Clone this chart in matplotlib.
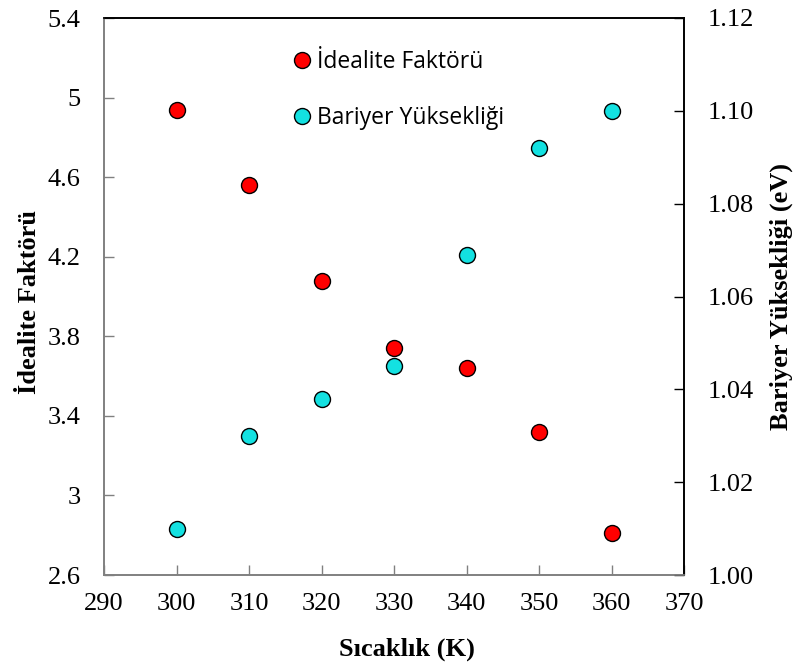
import matplotlib
matplotlib.use("Agg")
import matplotlib.pyplot as plt
from matplotlib.lines import Line2D

# Temperature (K)
temperature = [300, 310, 320, 330, 340, 350, 360]
# Ideality factor (left axis)
ideality = [4.94, 4.56, 4.08, 3.74, 3.64, 3.32, 2.81]
# Barrier height in eV (right axis)
barrier = [1.010, 1.030, 1.038, 1.045, 1.069, 1.092, 1.100]

x_ticks = [290, 300, 310, 320, 330, 340, 350, 360, 370]
left_ticks = [2.6, 3.0, 3.4, 3.8, 4.2, 4.6, 5.0, 5.4]
left_labels = ["2.6", "3", "3.4", "3.8", "4.2", "4.6", "5", "5.4"]
right_ticks = [1.00, 1.02, 1.04, 1.06, 1.08, 1.10, 1.12]
right_labels = ["1.00", "1.02", "1.04", "1.06", "1.08", "1.10", "1.12"]

serif = "Liberation Serif"
tick_fs = 19
label_fs = 19
grey = "#808080"

fig = plt.figure(figsize=(7.94, 6.69), dpi=100)
ax = fig.add_axes([104 / 794, 1 - 575 / 669, 580 / 794, 557 / 669])
ax2 = ax.twinx()

marker_kw = dict(marker="o", linestyle="none", markersize=11.5,
                 markeredgecolor="black", markeredgewidth=1.0)
ax.plot(temperature, ideality, markerfacecolor="#ff0000", **marker_kw)
ax2.plot(temperature, barrier, markerfacecolor="#13e1e1", **marker_kw)

ax.set_xlim(290, 370)
ax.set_ylim(2.6, 5.4)
ax2.set_ylim(1.00, 1.12)

ax.set_xticks(x_ticks)
ax.set_xticklabels([str(t) for t in x_ticks], fontfamily=serif, fontsize=tick_fs)
ax.set_yticks(left_ticks)
ax.set_yticklabels(left_labels, fontfamily=serif, fontsize=tick_fs)
ax2.set_yticks(right_ticks)
ax2.set_yticklabels(right_labels, fontfamily=serif, fontsize=tick_fs)

ax.tick_params(axis="x", direction="in", length=7, width=1, color=grey, pad=13)
ax.tick_params(axis="y", direction="in", length=7, width=1, color=grey, pad=17)
ax2.tick_params(axis="y", direction="in", length=7, width=1, color="black", pad=17)

for a in (ax, ax2):
    a.spines["left"].set_color(grey)
    a.spines["bottom"].set_color(grey)
    a.spines["right"].set_color("black")
    a.spines["top"].set_color("black")
    for s in a.spines.values():
        s.set_linewidth(1.2)

ax.set_xlabel("Sıcaklık (K)", fontfamily=serif, fontsize=label_fs, fontweight="bold")
ax.set_ylabel("İdealite Faktörü", fontfamily=serif, fontsize=label_fs, fontweight="bold")
ax2.set_ylabel("Bariyer Yüksekliği (eV)", fontfamily=serif, fontsize=label_fs, fontweight="bold",
               rotation=90)
ax.xaxis.set_label_coords(0.522, -0.113)
ax.yaxis.set_label_coords(-0.109, 0.49)
ax2.yaxis.set_label_coords(1.148, 0.5)

handles = [
    Line2D([], [], markerfacecolor="#ff0000", **marker_kw),
    Line2D([], [], markerfacecolor="#13e1e1", **marker_kw),
]
leg = ax2.legend(handles, ["İdealite Faktörü", "Bariyer Yüksekliği"],
                 loc="upper left", bbox_to_anchor=(293.4 / 794, 1 - 50 / 669),
                 bbox_transform=fig.transFigure, frameon=False,
                 prop={"family": "Open Sans", "size": 16.5}, handlelength=0.75,
                 handletextpad=0.28, labelspacing=1.38, borderpad=0, borderaxespad=0)

fig.savefig("out.png", dpi=100)
